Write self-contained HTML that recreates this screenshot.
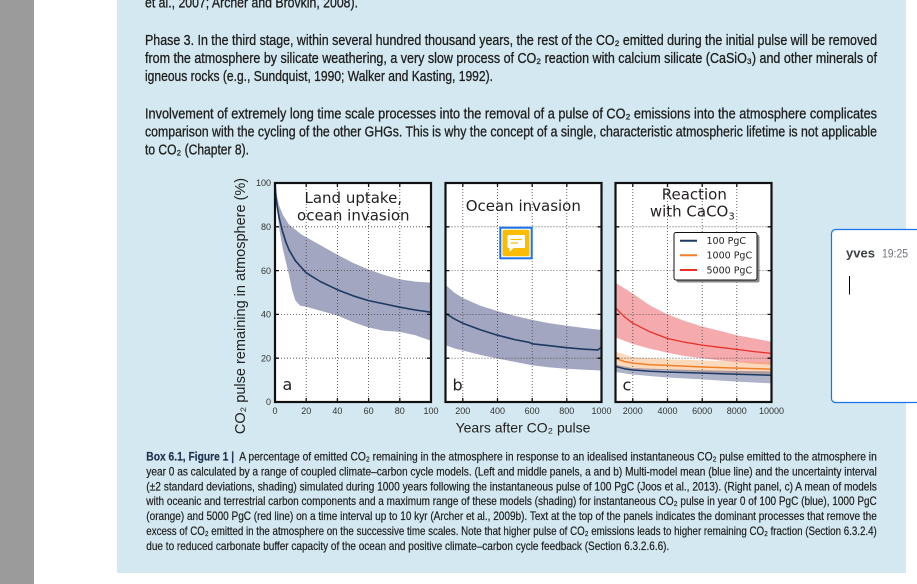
<!DOCTYPE html>
<html><head><meta charset="utf-8">
<style>
html,body{margin:0;padding:0;width:917px;height:584px;overflow:hidden;background:#fff;}
svg{position:absolute;left:0;top:0;display:block;}
.t{font-family:"Liberation Sans",sans-serif;fill:#1e1e1e;}
.dv{font-family:"DejaVu Sans","Liberation Sans",sans-serif;fill:#231f20;}
.tk{font-family:"Liberation Sans",sans-serif;font-size:9px;fill:#333;}
</style></head>
<body>
<svg width="917" height="584" viewBox="0 0 917 584" xmlns="http://www.w3.org/2000/svg">
<defs>
<clipPath id="ca"><rect x="275" y="183" width="156" height="219"/></clipPath>
<clipPath id="cb"><rect x="445.5" y="183" width="156" height="219"/></clipPath>
<clipPath id="cc"><rect x="615.5" y="183" width="156" height="219"/></clipPath>
</defs>
<rect x="0" y="0" width="917" height="584" fill="#fff"/>
<rect x="0" y="0" width="34" height="584" fill="#9b9b9b"/>
<rect x="117" y="0" width="789" height="573" fill="#d3e8f0"/>

<!-- top text -->
<g class="t" font-size="14.5" stroke="#1e1e1e" stroke-width="0.3">
<text x="145" y="7.7" textLength="213" lengthAdjust="spacingAndGlyphs">et al., 2007; Archer and Brovkin, 2008).</text>
<text x="145" y="45" textLength="732" lengthAdjust="spacingAndGlyphs">Phase 3. In the third stage, within several hundred thousand years, the rest of the CO₂ emitted during the initial pulse will be removed</text>
<text x="145" y="63" textLength="732" lengthAdjust="spacingAndGlyphs">from the atmosphere by silicate weathering, a very slow process of CO₂ reaction with calcium silicate (CaSiO₃) and other minerals of</text>
<text x="145" y="81" textLength="348" lengthAdjust="spacingAndGlyphs">igneous rocks (e.g., Sundquist, 1990; Walker and Kasting, 1992).</text>
<text x="145" y="118.3" textLength="732" lengthAdjust="spacingAndGlyphs">Involvement of extremely long time scale processes into the removal of a pulse of CO₂ emissions into the atmosphere complicates</text>
<text x="145" y="136.3" textLength="732" lengthAdjust="spacingAndGlyphs">comparison with the cycling of the other GHGs. This is why the concept of a single, characteristic atmospheric lifetime is not applicable</text>
<text x="145" y="154.5" textLength="104" lengthAdjust="spacingAndGlyphs">to CO₂ (Chapter 8).</text>
</g>

<!-- caption -->
<g class="t" font-size="12" stroke="#1e1e1e" stroke-width="0.2">
<text x="146.3" y="460.5" textLength="730.5" lengthAdjust="spacingAndGlyphs"><tspan font-weight="bold" fill="#1e3250" stroke="#1e3250">Box 6.1, Figure 1 |</tspan>&#160; A percentage of emitted CO₂ remaining in the atmosphere in response to an idealised instantaneous CO₂ pulse emitted to the atmosphere in</text>
<text x="146.3" y="475.4" textLength="730.5" lengthAdjust="spacingAndGlyphs">year 0 as calculated by a range of coupled climate–carbon cycle models. (Left and middle panels, a and b) Multi-model mean (blue line) and the uncertainty interval</text>
<text x="146.3" y="490.3" textLength="730.5" lengthAdjust="spacingAndGlyphs">(±2 standard deviations, shading) simulated during 1000 years following the instantaneous pulse of 100 PgC (Joos et al., 2013). (Right panel, c) A mean of models</text>
<text x="146.3" y="505.2" textLength="730.5" lengthAdjust="spacingAndGlyphs">with oceanic and terrestrial carbon components and a maximum range of these models (shading) for instantaneous CO₂ pulse in year 0 of 100 PgC (blue), 1000 PgC</text>
<text x="146.3" y="520.1" textLength="730.5" lengthAdjust="spacingAndGlyphs">(orange) and 5000 PgC (red line) on a time interval up to 10 kyr (Archer et al., 2009b). Text at the top of the panels indicates the dominant processes that remove the</text>
<text x="146.3" y="535" textLength="730.5" lengthAdjust="spacingAndGlyphs">excess of CO₂ emitted in the atmosphere on the successive time scales. Note that higher pulse of CO₂ emissions leads to higher remaining CO₂ fraction (Section 6.3.2.4)</text>
<text x="146.3" y="550" textLength="523" lengthAdjust="spacingAndGlyphs">due to reduced carbonate buffer capacity of the ocean and positive climate–carbon cycle feedback (Section 6.3.2.6.6).</text>
</g>

<!-- panel backgrounds -->
<rect x="275" y="183" width="156" height="219" fill="#fff"/>
<rect x="445.5" y="183" width="156" height="219" fill="#fff"/>
<rect x="615.5" y="183" width="156" height="219" fill="#fff"/>

<!-- panel a data -->
<g clip-path="url(#ca)">
<polygon fill="#a3a6c0" points="275,183 276.6,193.9 278.9,204.9 282.8,214.8 289.0,224.6 301.5,234.5 318.7,244.3 337.4,254.8 353.0,262.9 368.6,269.5 384.2,275.0 399.8,279.4 415.4,281.6 431.0,282.6 431.0,340.7 415.4,335.2 399.8,331.9 384.2,330.8 368.6,327.5 353.0,322.1 337.4,315.5 321.8,311.1 306.2,306.7 300.0,305.6 295.3,300.2 292.2,290.3 289.0,275.0 285.9,262.0 282.8,248.7 279.7,231.2 277.3,211.5 275,183"/>
</g>
<!-- panel b data -->
<g clip-path="url(#cb)">
<polygon fill="#a3a6c0" points="445.5,284.8 454.2,292.5 462.8,298.0 480.2,305.6 497.5,311.1 514.8,315.9 532.2,319.9 549.5,323.2 566.8,325.8 584.2,328.0 599.8,329.7 601.5,327.5 601.5,370.5 584.2,369.8 566.8,368.7 549.5,367.4 532.2,365.2 514.8,361.9 497.5,358.6 480.2,354.9 462.8,350.5 454.2,348.4 445.5,345.1"/>
</g>
<!-- panel c data -->
<g clip-path="url(#cc)">
<polygon fill="#e8383d" fill-opacity="0.42" points="615.5,282.7 624.2,288.1 632.8,293.6 650.2,305.6 667.5,314.4 684.8,321.0 702.2,326.5 719.5,330.8 736.8,335.2 754.2,338.5 771.5,341.8 771.5,364.8 754.2,363.7 736.8,362.1 719.5,360.4 702.2,358.2 684.8,356.0 667.5,352.7 650.2,348.8 632.8,344.0 624.2,340.7 615.5,337.4"/>
<polygon fill="#fb9a50" fill-opacity="0.38" points="615.5,351.6 632.8,357.1 667.5,359.3 702.2,360.4 736.8,361.5 771.5,362.1 771.5,374.6 736.8,373.5 702.2,372.4 667.5,370.3 632.8,369.2 615.5,365.9"/>
<polygon fill="#2a3670" fill-opacity="0.38" points="615.5,364.8 632.8,368.1 667.5,369.2 702.2,370.3 736.8,370.9 771.5,371.3 771.5,383.4 736.8,381.6 702.2,379.4 667.5,377.5 632.8,374.6 615.5,372.0"/>
</g>

<!-- grid -->
<g stroke="#444" stroke-width="0.8" stroke-dasharray="1 2" fill="none">
<path d="M306.2,183V402M337.4,183V402M368.6,183V402M399.8,183V402"/>
<path d="M462.8,183V402M497.5,183V402M532.2,183V402M566.8,183V402"/>
<path d="M632.8,183V402M667.5,183V402M702.2,183V402M736.8,183V402"/>
<path d="M275,226.8H431M275,270.6H431M275,314.4H431M275,358.2H431"/>
<path d="M445.5,226.8H601.5M445.5,270.6H601.5M445.5,314.4H601.5M445.5,358.2H601.5"/>
<path d="M615.5,226.8H771.5M615.5,270.6H771.5M615.5,314.4H771.5M615.5,358.2H771.5"/>
</g>

<!-- mean lines -->
<g fill="none" stroke-linejoin="round">
<polyline clip-path="url(#ca)" stroke="#1c3a63" stroke-width="1.6" points="275.0,183.0 276.1,198.3 277.3,207.1 279.2,218.0 282.5,231.2 285.9,242.1 289.0,249.8 295.3,260.7 306.2,272.8 320.2,281.5 337.4,289.7 353.0,295.8 368.6,300.6 384.2,303.9 399.8,307.2 415.4,310.0 431.0,312.2"/>
<polyline clip-path="url(#cb)" stroke="#1c3a63" stroke-width="1.6" points="445.5,313.3 454.2,318.8 462.8,323.2 480.2,329.7 497.5,335.2 514.8,339.6 529,342.3 532.2,343.8 549.5,345.7 566.8,347.7 584.2,349.2 598.0,349.9 599.8,348.4 601.5,347.3"/>
<polyline clip-path="url(#cc)" stroke="#e8302a" stroke-width="1.3" points="615.5,307.8 624.2,316.6 632.8,323.2 650.2,331.9 667.5,338.5 684.8,342.2 702.2,345.1 719.5,347.3 736.8,349.4 754.2,351.6 771.5,353.4"/>
<polyline clip-path="url(#cc)" stroke="#f07f2a" stroke-width="1.5" points="615.5,358.2 624.2,361.5 632.8,363.0 650.2,364.8 667.5,365.4 702.2,367.0 736.8,368.1 771.5,369.2"/>
<polyline clip-path="url(#cc)" stroke="#1c3a63" stroke-width="1.5" points="615.5,366.5 624.2,368.7 632.8,370.0 650.2,371.3 667.5,372.0 702.2,373.1 736.8,374.2 771.5,375.3"/>
</g>

<!-- ticks -->
<g stroke="#111" stroke-width="1.3">
<path d="M275,226.8h4M275,270.6h4M275,314.4h4M275,358.2h4M431,226.8h-4M431,270.6h-4M431,314.4h-4M431,358.2h-4"/>
<path d="M445.5,226.8h4M445.5,270.6h4M445.5,314.4h4M445.5,358.2h4M601.5,226.8h-4M601.5,270.6h-4M601.5,314.4h-4M601.5,358.2h-4"/>
<path d="M615.5,226.8h4M615.5,270.6h4M615.5,314.4h4M615.5,358.2h4M771.5,226.8h-4M771.5,270.6h-4M771.5,314.4h-4M771.5,358.2h-4"/>
<path d="M306.2,402v-4M337.4,402v-4M368.6,402v-4M399.8,402v-4M306.2,183v4M337.4,183v4M368.6,183v4M399.8,183v4"/>
<path d="M462.8,402v-4M497.5,402v-4M532.2,402v-4M566.8,402v-4M462.8,183v4M497.5,183v4M532.2,183v4M566.8,183v4"/>
<path d="M632.8,402v-4M667.5,402v-4M702.2,402v-4M736.8,402v-4M632.8,183v4M667.5,183v4M702.2,183v4M736.8,183v4"/>
</g>

<!-- frames -->
<g fill="none" stroke="#111" stroke-width="2.2">
<rect x="275" y="183" width="156" height="219"/>
<rect x="445.5" y="183" width="156" height="219"/>
<rect x="615.5" y="183" width="156" height="219"/>
</g>

<!-- tick labels -->
<g class="tk" text-anchor="end">
<text x="271" y="186.2">100</text>
<text x="271" y="230">80</text>
<text x="271" y="273.8">60</text>
<text x="271" y="317.6">40</text>
<text x="271" y="361.4">20</text>
<text x="271" y="405.2">0</text>
</g>
<g class="tk" text-anchor="middle">
<text x="275" y="414">0</text>
<text x="306.2" y="414">20</text>
<text x="337.4" y="414">40</text>
<text x="368.6" y="414">60</text>
<text x="399.8" y="414">80</text>
<text x="431" y="414">100</text>
<text x="462.8" y="414">200</text>
<text x="497.5" y="414">400</text>
<text x="532.2" y="414">600</text>
<text x="566.8" y="414">800</text>
<text x="601.5" y="414">1000</text>
<text x="632.8" y="414">2000</text>
<text x="667.5" y="414">4000</text>
<text x="702.2" y="414">6000</text>
<text x="736.8" y="414">8000</text>
<text x="771.5" y="414">10000</text>
</g>

<!-- axis labels -->
<text class="t" font-size="14.5" text-anchor="middle" transform="translate(245,306) rotate(-90)" style="fill:#222">CO₂ pulse remaining in atmosphere (%)</text>
<text class="t" font-size="14" text-anchor="middle" x="523" y="432.5" style="fill:#222">Years after CO₂ pulse</text>

<!-- panel titles -->
<g class="dv" font-size="15" text-anchor="middle">
<text x="353.3" y="203">Land uptake,</text>
<text x="353.3" y="220.5">ocean invasion</text>
<text x="523.3" y="211">Ocean invasion</text>
<text x="694.3" y="199.3">Reaction</text>
<text x="692.3" y="216.7">with CaCO<tspan font-size="10" dy="3">3</tspan></text>
</g>
<g class="dv" font-size="16">
<text x="282.5" y="390">a</text>
<text x="452.5" y="390.5">b</text>
<text x="622.5" y="390.5">c</text>
</g>

<!-- legend -->
<rect x="676.5" y="235" width="83" height="47.5" rx="2" fill="#8a8a8a"/>
<rect x="674" y="232.5" width="83" height="47.5" rx="2" fill="#fff" stroke="#111" stroke-width="1"/>
<g stroke-width="2">
<line x1="680" y1="240.7" x2="697" y2="240.7" stroke="#1c3a63"/>
<line x1="680" y1="255.3" x2="697" y2="255.3" stroke="#f07f2a"/>
<line x1="680" y1="270" x2="697" y2="270" stroke="#e8302a"/>
</g>
<g class="dv" font-size="9.5">
<text x="706.5" y="244">100 PgC</text>
<text x="706.5" y="258.6">1000 PgC</text>
<text x="706.5" y="273.3">5000 PgC</text>
</g>

<!-- comment icon -->
<rect x="500.3" y="227.7" width="31.4" height="30.6" fill="none" stroke="#1a73e8" stroke-width="2"/>
<rect x="502.5" y="229.7" width="27" height="26.6" rx="2" fill="#fbbc04"/>
<rect x="507.5" y="235" width="17.5" height="13" rx="1" fill="#fff"/>
<polygon points="509.5,247.5 509.5,252 514,247.5" fill="#fff"/>
<line x1="510.5" y1="239.5" x2="522" y2="239.5" stroke="#fbbc04" stroke-width="1.2"/>
<line x1="510.5" y1="243" x2="518" y2="243" stroke="#fbbc04" stroke-width="1.2"/>

<!-- comment box -->
<rect x="831.5" y="229.5" width="100" height="173" rx="4" fill="#fff" stroke="#1a73e8" stroke-width="1.2"/>
<text x="846" y="257.5" font-family="Liberation Sans, sans-serif" font-weight="bold" font-size="13" fill="#3c4043">yves</text>
<text x="882" y="257.5" font-family="Liberation Sans, sans-serif" font-size="11.5" fill="#6f7378" textLength="26" lengthAdjust="spacingAndGlyphs">19:25</text>
<line x1="849.5" y1="276" x2="849.5" y2="294.5" stroke="#000" stroke-width="1"/>
</svg>
</body></html>
